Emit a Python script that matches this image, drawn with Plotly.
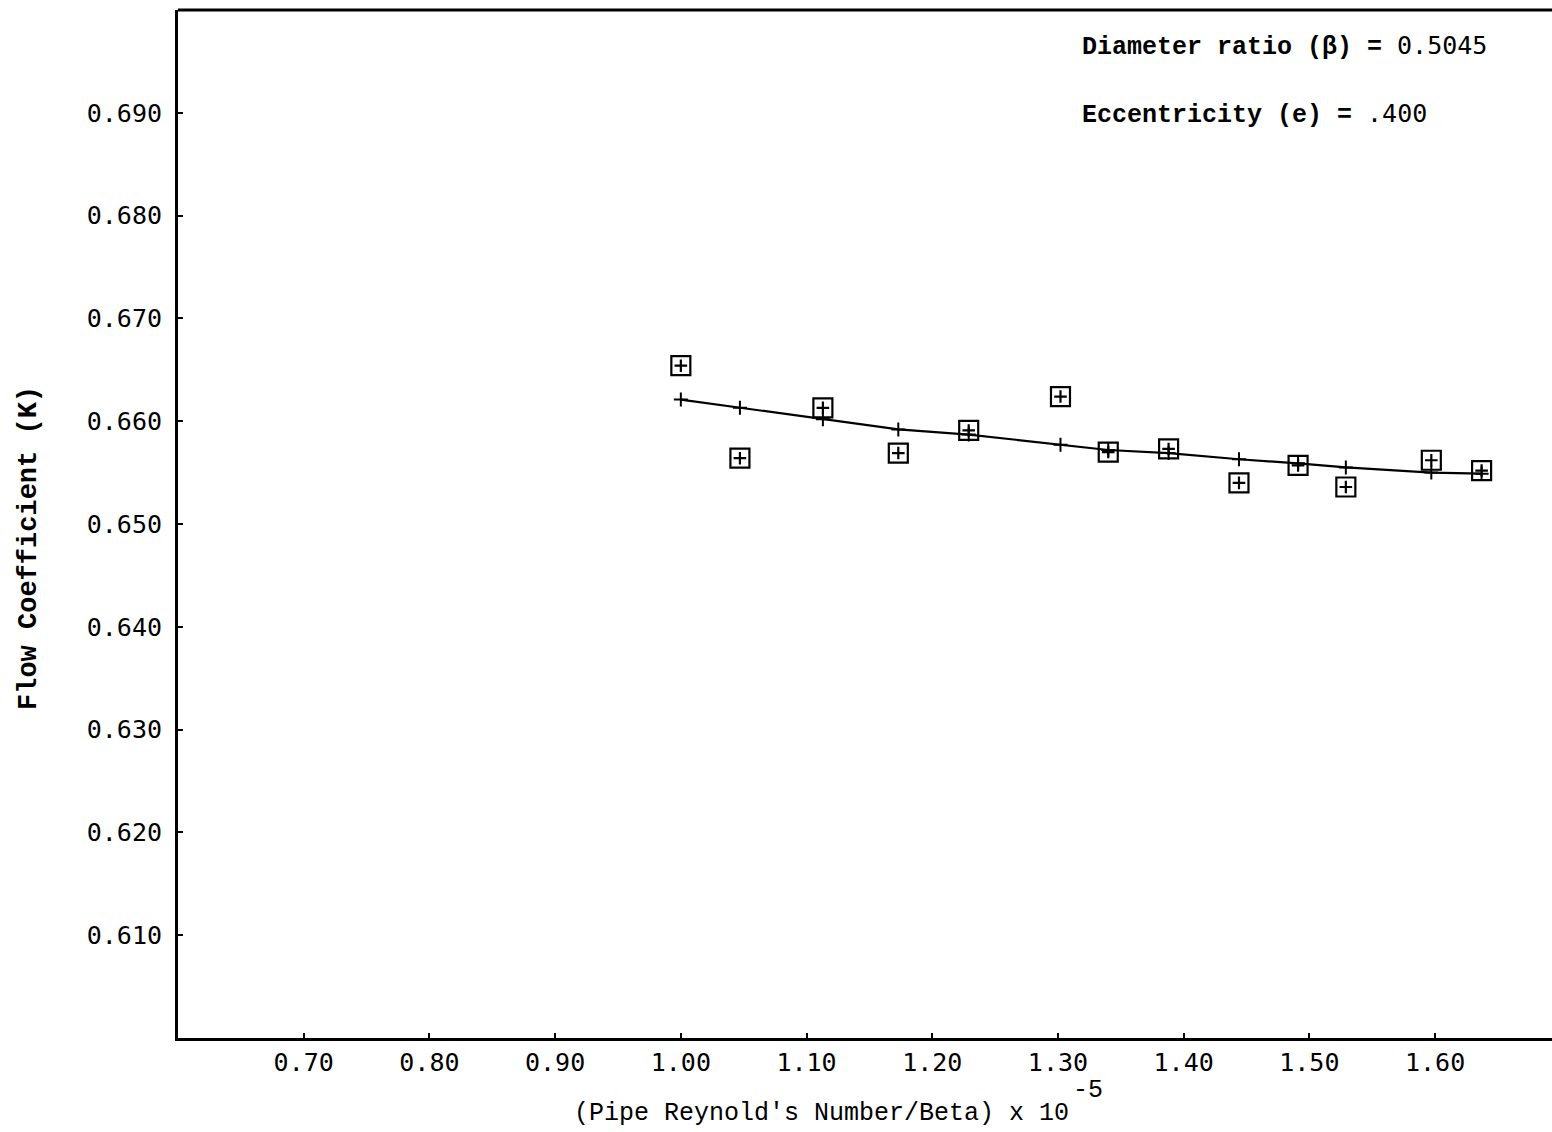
import plotly.graph_objects as go

# Measured flow coefficient vs. pipe Reynolds number / beta (x 10^-5)
reynolds_beta = [1.000, 1.047, 1.113, 1.173, 1.229, 1.302, 1.340, 1.388,
                 1.444, 1.491, 1.529, 1.597, 1.637]
flow_coeff = [0.6654, 0.6564, 0.6613, 0.6569, 0.6591, 0.6624, 0.6570, 0.6573,
              0.6540, 0.6557, 0.6536, 0.6562, 0.6552]

# Curve-fit values at the same abscissae
fit_coeff = [0.6621, 0.6613, 0.6602, 0.6592, 0.6587, 0.6577, 0.6572, 0.6569,
             0.6563, 0.6559, 0.6555, 0.6550, 0.6549]

x_tick_vals = [0.70, 0.80, 0.90, 1.00, 1.10, 1.20, 1.30, 1.40, 1.50, 1.60]
x_tick_text = ["0.70", "0.80", "0.90", "1.00", "1.10", "1.20", "1.30", "1.40", "1.50", "1.60"]
y_tick_vals = [0.610, 0.620, 0.630, 0.640, 0.650, 0.660, 0.670, 0.680, 0.690]
y_tick_text = ["0.610", "0.620", "0.630", "0.640", "0.650", "0.660", "0.670", "0.680", "0.690"]

TICK_FONT = "DejaVu Sans Mono"
TYPE_FONT = "Liberation Mono"

fig = go.Figure()

# Fitted curve with small cross markers
fig.add_trace(go.Scatter(
    x=reynolds_beta, y=fit_coeff, mode="lines+markers",
    line=dict(color="black", width=2.2),
    marker=dict(symbol="cross-thin-open", size=10, color="black",
                line=dict(color="black", width=2)),
    showlegend=False, hoverinfo="skip",
))

# Data points: open squares with a plus inside
fig.add_trace(go.Scatter(
    x=reynolds_beta, y=flow_coeff, mode="markers",
    marker=dict(symbol="square-open", size=19, color="black",
                line=dict(color="black", width=2.2)),
    showlegend=False,
))
fig.add_trace(go.Scatter(
    x=reynolds_beta, y=flow_coeff, mode="markers",
    marker=dict(symbol="cross-thin-open", size=9, color="black",
                line=dict(color="black", width=2.2)),
    showlegend=False, hoverinfo="skip",
))

axis_common = dict(
    showgrid=False, zeroline=False, showline=True, linecolor="black", linewidth=3,
    ticks="inside", ticklen=5, tickwidth=2, tickcolor="black",
    tickfont=dict(family=TICK_FONT, size=25, color="black"),
)

fig.update_xaxes(range=[0.60, 1.693], tickvals=x_tick_vals, ticktext=x_tick_text,
                 ticklabelstandoff=0, **axis_common)
fig.update_yaxes(range=[0.600, 0.700], tickvals=y_tick_vals, ticktext=y_tick_text,
                 ticklabelstandoff=8, **axis_common)

W, H = 1552, 1132
L, R, T, B = 178, 0, 10, 94
pw, ph = W - L - R, H - T - B


def px(x):
    return (x - L) / pw


def py(y):
    return (H - B - y) / ph


# Top frame line
fig.add_shape(type="line", xref="paper", yref="paper", x0=0, x1=1, y0=1, y1=1,
              line=dict(color="black", width=3))

annotations = [
    dict(x=px(1080), y=py(47), xanchor="left", yanchor="middle",
         text=f"<b>Diameter ratio (β) = </b><span style=\"font-family:{TICK_FONT}\">0.5045</span>",
         font=dict(family=TYPE_FONT, size=25, color="black")),
    dict(x=px(1080), y=py(115), xanchor="left", yanchor="middle",
         text=f"<b>Eccentricity (e) = </b><span style=\"font-family:{TICK_FONT}\">.400</span>",
         font=dict(family=TYPE_FONT, size=25, color="black")),
    dict(x=px(29), y=py(548), xanchor="center", yanchor="middle", textangle=-90,
         text="<b>Flow Coefficient (K)</b>",
         font=dict(family=TYPE_FONT, size=27, color="black")),
    dict(x=px(572), y=py(1113), xanchor="left", yanchor="middle",
         text="(Pipe Reynold's Number/Beta) x 10",
         font=dict(family=TYPE_FONT, size=25, color="black")),
    dict(x=px(1071), y=py(1090), xanchor="left", yanchor="middle",
         text="-5",
         font=dict(family=TYPE_FONT, size=25, color="black")),
]
for a in annotations:
    fig.add_annotation(xref="paper", yref="paper", showarrow=False, **a)

fig.update_layout(
    width=W, height=H,
    margin=dict(l=L, r=R, t=T, b=B),
    paper_bgcolor="white", plot_bgcolor="white",
)

fig.write_html("out.html")
